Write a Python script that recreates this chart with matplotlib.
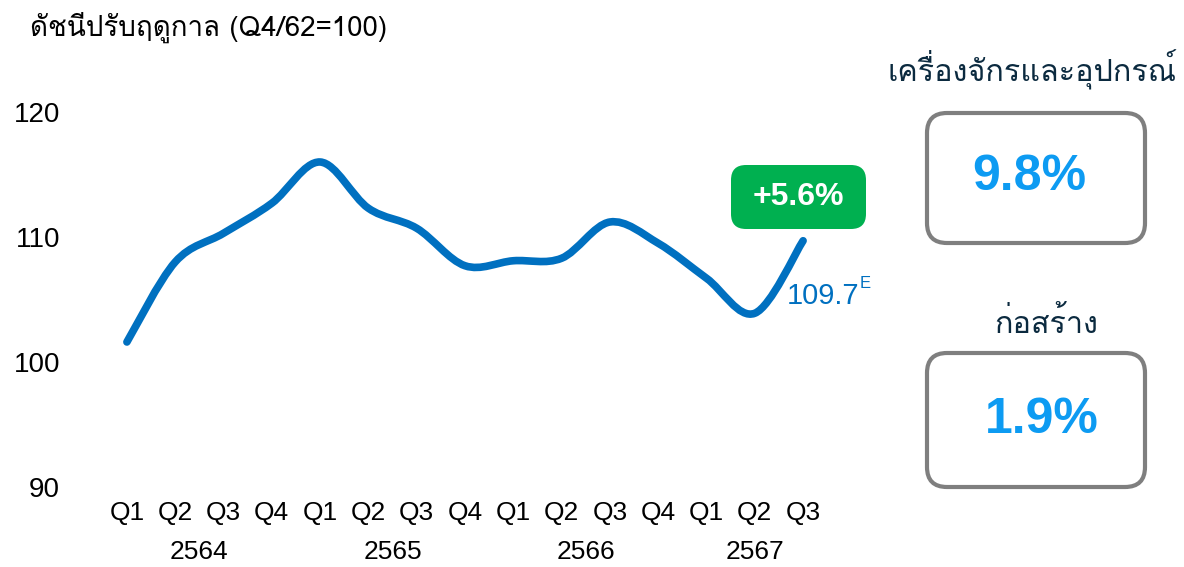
import matplotlib
matplotlib.use("Agg")
import matplotlib.pyplot as plt
from matplotlib import font_manager
from matplotlib.ft2font import FT2Font
from matplotlib.path import Path
from matplotlib.patches import PathPatch, FancyBboxPatch
import numpy as np

# data
quarters = ["Q1", "Q2", "Q3", "Q4", "Q1", "Q2", "Q3", "Q4",
            "Q1", "Q2", "Q3", "Q4", "Q1", "Q2", "Q3"]
years = ["2564"] * 4 + ["2565"] * 4 + ["2566"] * 4 + ["2567"] * 3
index_values = [101.6, 108.0, 110.3, 112.7, 116.0, 112.3, 110.7, 107.7,
                108.1, 108.3, 111.2, 109.5, 106.7, 103.9, 109.7]
change_label = "+5.6%"
title = "ดัชนีปรับฤดูกาล (Q4/62=100)"
sectors = ["เครื่องจักรและอุปกรณ์", "ก่อสร้าง"]
sector_values = ["9.8%", "1.9%"]

# find a font that has thai glyphs
thai = None
for f in font_manager.fontManager.ttflist:
    try:
        if ord("ด") in FT2Font(f.fname).get_charmap():
            thai = f.name
            break
    except Exception:
        pass
latin = "Liberation Sans"
thai_fam = [thai, latin] if thai else [latin]
plt.rcParams["font.family"] = [latin, "DejaVu Sans"]

fig = plt.figure(figsize=(11.84, 5.67), dpi=100)
ax = fig.add_axes([110 / 1184, 1 - 487 / 567, 710 / 1184, 375 / 567])

# smooth line (catmull-rom -> bezier)
x = np.arange(len(index_values), dtype=float)
y = np.array(index_values)
P = np.column_stack([x, y])
Pe = np.vstack([P[0], P, P[-1]])
verts = [P[0]]
codes = [Path.MOVETO]
for i in range(len(P) - 1):
    p0, p1, p2, p3 = Pe[i], Pe[i + 1], Pe[i + 2], Pe[i + 3]
    verts += [p1 + (p2 - p0) / 6, p2 - (p3 - p1) / 6, p2]
    codes += [Path.CURVE4] * 3
ax.add_patch(PathPatch(Path(verts, codes), fill=False, edgecolor="#0070c0",
                       lw=5.5, capstyle="round", joinstyle="round"))

ax.set_xlim(-0.35, len(x) - 1 + 0.35)
ax.set_ylim(90, 120)
ax.set_yticks([90, 100, 110, 120])
ax.set_xticks(x)
ax.set_xticklabels(quarters)
ax.tick_params(length=0, labelsize=19)
ax.tick_params(axis="y", pad=36, labelsize=20)
ax.tick_params(axis="x", pad=10)
for s in ax.spines.values():
    s.set_visible(False)

# year labels
for yr in dict.fromkeys(years):
    idx = [i for i, v in enumerate(years) if v == yr]
    ax.text(np.mean(idx), -0.173, yr, transform=ax.get_xaxis_transform(),
            ha="center", va="center", fontsize=19)

# last value label
ax.annotate(f"{index_values[-1]:.1f}", (x[-1], y[-1]), xytext=(-12, -40),
            textcoords="offset points", ha="left", va="center",
            fontsize=21, color="#0070c0")
ax.annotate("E", (x[-1], y[-1]), xytext=(41, -31),
            textcoords="offset points", ha="left", va="center",
            fontsize=12, color="#0070c0")

fig.text(30 / 1184, 1 - 27 / 567, title, family=thai_fam, fontsize=20,
         ha="left", va="center")

tr = fig.dpi_scale_trans
# green change badge
fig.patches.append(FancyBboxPatch((7.31 + 0.15, 3.38 + 0.15), 1.35 - 0.3, 0.64 - 0.3,
                                  boxstyle="round,pad=0.15", transform=tr,
                                  facecolor="#00b050", edgecolor="none"))
fig.text(7.985, 3.70, change_label, transform=tr, ha="center", va="center",
         fontsize=23, fontweight="bold", color="white")

# sector boxes
heads = [(10.32, 4.97), (10.46, 2.44)]
boxes = [(9.27, 3.24, 4.54), (9.27, 0.80, 2.14)]
txt = [(10.29, 3.90), (10.42, 1.47)]
for name, val, h, b, t in zip(sectors, sector_values, heads, boxes, txt):
    fig.text(h[0], h[1], name, transform=tr, family=thai_fam, fontsize=22,
             ha="center", va="center", color="#0b2a3f")
    r = 0.2
    fig.patches.append(FancyBboxPatch((b[0] + r, b[1] + r), 2.18 - 2 * r, b[2] - b[1] - 2 * r,
                                      boxstyle=f"round,pad={r}", transform=tr,
                                      facecolor="white", edgecolor="#7f7f7f", lw=3))
    fig.text(t[0], t[1], val, transform=tr, ha="center", va="center",
             fontsize=36, fontweight="bold", color="#0d9bf2")

fig.savefig("out.png", dpi=100, facecolor="white")
